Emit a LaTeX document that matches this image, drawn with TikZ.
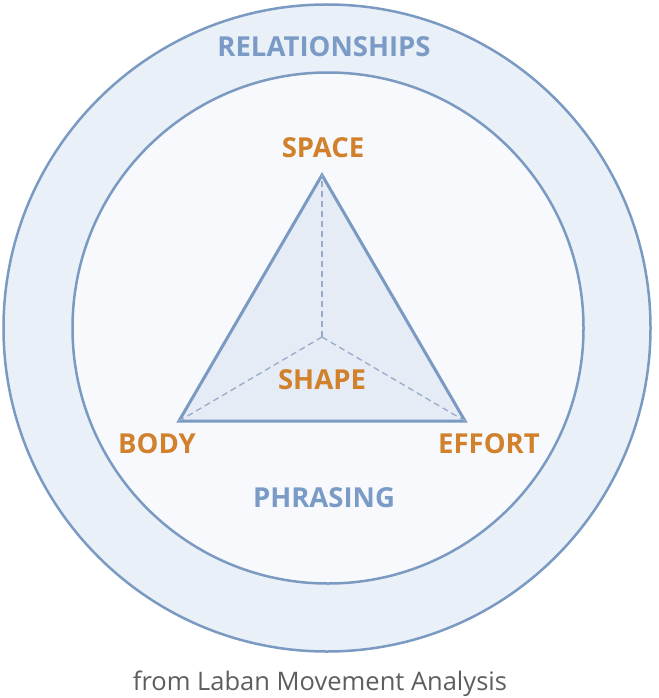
\documentclass[tikz,border=0pt]{standalone}
\usepackage{fontspec}
\setmainfont{Open Sans}
\definecolor{ringline}{HTML}{7A9AC2}
\definecolor{ringfill}{HTML}{EAF0F8}
\definecolor{innerfill}{HTML}{F7F9FC}
\definecolor{trifill}{HTML}{E5ECF6}
\definecolor{dashcol}{HTML}{98ABC8}
\definecolor{orangetxt}{HTML}{D1802C}
\definecolor{bluetxt}{HTML}{7A9BC5}
\definecolor{captxt}{HTML}{5E5E5E}
\tikzset{
  ringcircle/.style={circle, draw=ringline, line width=2.5pt, inner sep=0pt},
  triline/.style={draw=ringline, line width=3pt, line join=miter, fill=trifill},
  dashline/.style={draw=dashcol, line width=1.3pt, dash pattern=on 6pt off 4pt},
  orangelabel/.style={text=orangetxt, font=\bfseries\fontsize{27.5}{32}\selectfont, inner sep=0pt},
  bluelabel/.style={text=bluetxt, font=\bfseries\fontsize{27.5}{32}\selectfont, inner sep=0pt},
  caption/.style={text=captxt, font=\fontsize{25.5}{32}\selectfont, inner sep=0pt}
}
\begin{document}
\begin{tikzpicture}[x=1pt,y=-1pt]
\useasboundingbox (0,0) rectangle (658,698);
\fill[white] (0,0) rectangle (658,698);
\node[ringcircle, fill=ringfill, minimum size=647pt] (outer) at (327,328) {};
\node[ringcircle, fill=innerfill, minimum size=511pt] (inner) at (328,328) {};
\coordinate (S) at (322,175);
\coordinate (B) at (179,421);
\coordinate (E) at (465,421);
\coordinate (C) at (322,337);
\path[triline] (S) -- (E) -- (B) -- cycle;
\draw[dashline] (C) -- (S);
\draw[dashline] (C) -- (B);
\draw[dashline] (C) -- (E);
\node[bluelabel] (rel) at (324,47) {RELATIONSHIPS};
\node[orangelabel] (space) at (323,148) {SPACE};
\node[orangelabel] (shape) at (322,380) {SHAPE};
\node[orangelabel] (body) at (157,444) {BODY};
\node[orangelabel] (effort) at (489,444) {EFFORT};
\node[bluelabel] (phr) at (324,498) {PHRASING};
\node[caption, anchor=base] (cap) at (320,690) {from Laban Movement Analysis};
\end{tikzpicture}
\end{document}
